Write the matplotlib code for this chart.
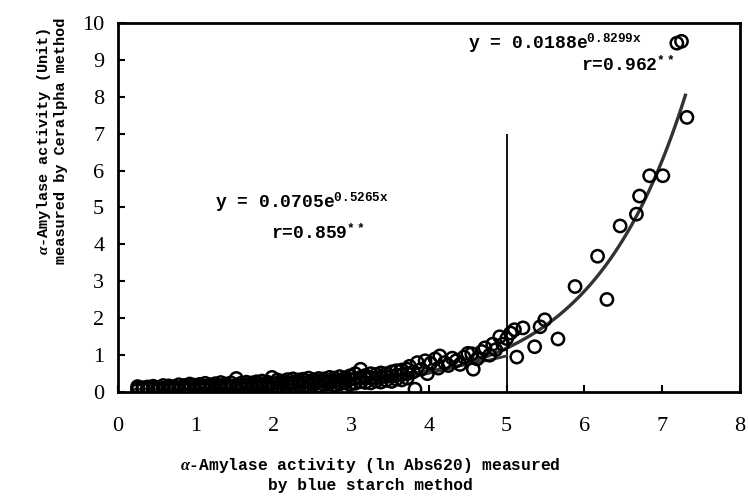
import numpy as np
import matplotlib
matplotlib.use("Agg")
from matplotlib import pyplot as plt

plt.rcParams['font.family'] = ['Liberation Mono', 'DejaVu Sans']
plt.rcParams['font.weight'] = 'bold'
plt.rcParams['mathtext.fontset'] = 'custom'
plt.rcParams['mathtext.rm'] = 'Liberation Mono:bold'
plt.rcParams['mathtext.it'] = 'Liberation Serif:italic'

# dense band of samples at low activity
band_x = [0.25, 0.32, 0.38, 0.45, 0.52, 0.58, 0.65, 0.72, 0.78, 0.85, 0.92, 0.98,
          1.05, 1.12, 1.18, 1.25, 1.32, 1.38, 1.45, 1.52, 1.58, 1.65, 1.72, 1.78,
          1.85, 1.92, 1.98, 2.05, 2.12, 2.18, 2.25, 2.32, 2.38, 2.45, 2.52, 2.58,
          2.65, 2.72, 2.78, 2.85, 2.92, 2.98, 3.05, 3.12, 3.18, 3.25, 3.32, 3.38,
          3.45, 3.52, 3.58, 3.65, 3.72]
band_hi = [0.15, 0.10, 0.14, 0.16, 0.12, 0.18, 0.17, 0.15, 0.20, 0.18, 0.22, 0.19,
           0.21, 0.24, 0.20, 0.23, 0.26, 0.22, 0.25, 0.37, 0.24, 0.27, 0.25, 0.28,
           0.30, 0.27, 0.40, 0.33, 0.30, 0.34, 0.36, 0.33, 0.35, 0.38, 0.34, 0.37,
           0.36, 0.40, 0.38, 0.42, 0.39, 0.44, 0.50, 0.62, 0.45, 0.50, 0.48, 0.52,
           0.50, 0.55, 0.58, 0.60, 0.62]
band_mid = [0.10, 0.12, 0.09, 0.11, 0.13, 0.10, 0.12, 0.14, 0.11, 0.13, 0.15, 0.12,
            0.14, 0.16, 0.13, 0.17, 0.15, 0.18, 0.16, 0.19, 0.17, 0.20, 0.18, 0.21,
            0.22, 0.19, 0.23, 0.25, 0.22, 0.26, 0.24, 0.27, 0.25, 0.28, 0.27, 0.29,
            0.28, 0.31, 0.29, 0.32, 0.31, 0.34, 0.36, 0.40, 0.37, 0.39, 0.38, 0.41,
            0.42, 0.43, 0.46, 0.47, 0.50]
band_lo = [0.05, 0.08, 0.06, 0.04, 0.07, 0.05, 0.08, 0.06, 0.04, 0.09, 0.07, 0.05,
           0.08, 0.10, 0.06, 0.09, 0.07, 0.11, 0.08, 0.12, 0.10, 0.13, 0.09, 0.12,
           0.15, 0.11, 0.14, 0.16, 0.13, 0.17, 0.15, 0.19, 0.16, 0.18, 0.21, 0.17,
           0.20, 0.23, 0.19, 0.22, 0.25, 0.21, 0.24, 0.28, 0.26, 0.25, 0.30, 0.27,
           0.32, 0.29, 0.35, 0.33, 0.38]

# the looser points at higher activity
upper_x = [3.75, 3.80, 3.82, 3.85, 3.90, 3.95, 3.98, 4.02, 4.08, 4.12, 4.14, 4.20,
           4.25, 4.30, 4.35, 4.40, 4.45, 4.50, 4.55, 4.57, 4.62, 4.68, 4.72, 4.78,
           4.82, 4.86, 4.91, 4.95, 5.00, 5.05, 5.10, 5.13, 5.21, 5.36, 5.43, 5.49,
           5.66, 5.88, 6.17, 6.29, 6.46, 6.67, 6.71, 6.84, 7.01, 7.19, 7.25, 7.32]
upper_y = [0.70, 0.55, 0.08, 0.80, 0.62, 0.85, 0.50, 0.78, 0.90, 0.65, 0.98, 0.80,
           0.72, 0.92, 0.85, 0.75, 0.95, 1.05, 1.04, 0.62, 0.90, 1.10, 1.20, 1.00,
           1.30, 1.15, 1.50, 1.30, 1.45, 1.60, 1.69, 0.95, 1.74, 1.23, 1.77, 1.96,
           1.44, 2.86, 3.68, 2.51, 4.50, 4.82, 5.31, 5.86, 5.86, 9.45, 9.50, 7.44]

# fitted exponentials  y = a * exp(b x)
fit_lo = (0.0705, 0.5265)
fit_hi = (0.0188, 0.8299)

fig = plt.figure(figsize=(7.48, 4.97), dpi=100)
ax = fig.add_axes([0.158, 0.211, 0.831, 0.743])

xs = np.array(band_x * 3 + upper_x)
ys = np.array(band_hi + band_mid + band_lo + upper_y)
ax.scatter(xs, ys, s=78, facecolors='none', edgecolors='black', linewidths=1.8,
           zorder=3)

x1 = np.linspace(0.2, 5.0, 100)
ax.plot(x1, fit_lo[0] * np.exp(fit_lo[1] * x1), color='#333333', lw=2, zorder=2)
x2 = np.linspace(3.5, 7.3, 100)
ax.plot(x2, fit_hi[0] * np.exp(fit_hi[1] * x2), color='#333333', lw=2.4, zorder=2)

ax.vlines(5, 0, 7, color='black', lw=1.3, zorder=1)

ax.set_xlim(0, 8)
ax.set_ylim(0, 10)
ax.set_xticks(range(0, 9))
ax.set_yticks(range(0, 11))
for s in ax.spines.values():
    s.set_linewidth(2)
ax.tick_params(direction='in', length=5, width=1.5, labelsize=16, top=False,
               right=False)
ax.tick_params(axis='x', pad=18)
ax.tick_params(axis='y', pad=10)
for lab in ax.get_xticklabels() + ax.get_yticklabels():
    lab.set_fontfamily('Liberation Serif')
    lab.set_fontweight('normal')

ax.text(1.25, 5.15, 'y = 0.0705e$^{\\mathrm{0.5265x}}$', fontsize=13, va='center')
ax.text(2.57, 4.3, 'r=0.859$^{\\mathrm{**}}$', fontsize=13, va='center', ha='center')
ax.text(4.5, 9.45, 'y = 0.0188e$^{\\mathrm{0.8299x}}$', fontsize=13, va='center')
ax.text(6.56, 8.85, 'r=0.962$^{\\mathrm{**}}$', fontsize=13, va='center', ha='center')

fig.text(0.069, 0.716, '$\\alpha$-Amylase activity (Unit)\nmeasured by Ceralpha method',
         rotation=90, ha='center', va='center', fontsize=11, multialignment='center',
         linespacing=1.05)
fig.text(0.495, 0.045, '$\\alpha$-Amylase activity (ln Abs620) measured\nby blue starch method',
         ha='center', va='center', fontsize=11.7, multialignment='center',
         linespacing=1.3)

fig.savefig('out.png', dpi=100)
